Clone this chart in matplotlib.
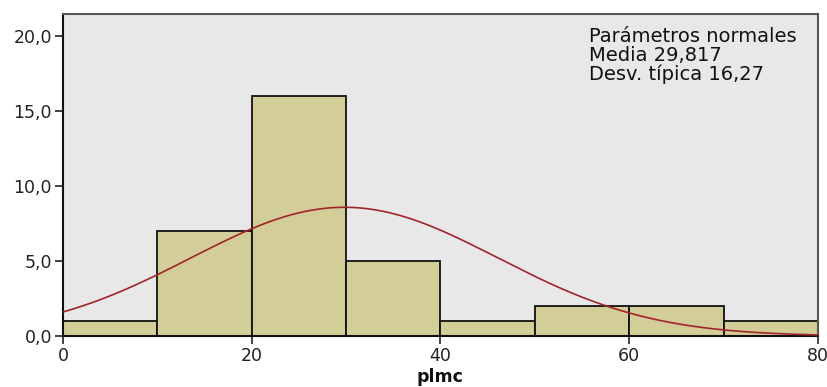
import numpy as np
import matplotlib
matplotlib.use("Agg")
import matplotlib.pyplot as plt

bin_edges = [0, 10, 20, 30, 40, 50, 60, 70, 80]
counts = [1, 7, 16, 5, 1, 2, 2, 1]
mean = 29.817
sd = 16.27
x_ticks = [0, 20, 40, 60, 80]
y_ticks = [0, 5, 10, 15, 20]
y_tick_labels = ["0,0", "5,0", "10,0", "15,0", "20,0"]
x_label = "plmc"
info_lines = ["Parámetros normales", "Media 29,817", "Desv. típica 16,27"]

plt.rcParams['font.family'] = ['DejaVu Sans']

fig = plt.figure(figsize=(8.28, 3.87), dpi=100)
ax = fig.add_axes([63/828, 1 - 336/387, (818-63)/828, (336-14)/387])
ax.set_facecolor('#e8e8e8')

widths = np.diff(bin_edges)
ax.bar(bin_edges[:-1], counts, width=widths, align='edge', color='#d3cd97',
       edgecolor='#111111', linewidth=1.3, zorder=2)

n = sum(counts)
bw = widths[0]
xs = np.linspace(bin_edges[0], bin_edges[-1], 400)
ys = n * bw / (sd * np.sqrt(2 * np.pi)) * np.exp(-0.5 * ((xs - mean) / sd) ** 2)
ax.plot(xs, ys, color='#a3242b', linewidth=1.2, zorder=3)

ax.set_xlim(0, 80)
ax.set_ylim(0, 21.47)
ax.set_xticks(x_ticks)
ax.set_xticklabels([str(v) for v in x_ticks])
ax.set_yticks(y_ticks)
ax.set_yticklabels(y_tick_labels)
ax.tick_params(axis='both', direction='out', length=6, width=1.2, color='#222222',
               labelsize=12.5, labelcolor='#222222', pad=2)

for side in ['left', 'bottom']:
    ax.spines[side].set_linewidth(1.5)
    ax.spines[side].set_color('#111111')
for side in ['top', 'right']:
    ax.spines[side].set_linewidth(1.5)
    ax.spines[side].set_color('#555555')

fig.text(589/828, 1 - 27/387, "\n".join(info_lines), ha='left', va='top',
         fontsize=14, color='#111111', linespacing=1.0)

fig.text(440/828, 1 - 382/387, x_label, ha='center', va='baseline',
         fontsize=12.5, fontweight='bold', color='#111111')

fig.savefig('out.png', dpi=100)
